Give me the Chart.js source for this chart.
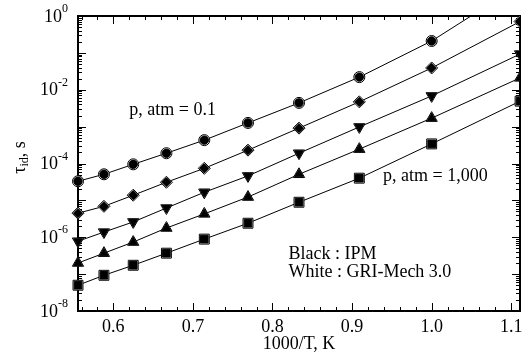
<!DOCTYPE html>
<html>
  <head>
    <title>Ignition delay</title>
    <script src="https://cdn.jsdelivr.net/npm/chart.js"></script>
    <style>
      body { margin: 0; background: #fff; }
      .chart-container { width: 528px; height: 355px; }
    </style>
  </head>
  <body>
    <div class="chart-container">
      <canvas id="tauChart"></canvas>
    </div>

    <script>
      // 1000/T, K  (T = 1800 ... 900 K)
      const invT = [0.5556, 0.5882, 0.625, 0.6667, 0.7143, 0.7692, 0.8333, 0.9091, 1.0, 1.1111];

      // ignition delay, s
      const tau_p0_1 = [3.3e-5, 5.1e-5, 9.5e-5, 1.9e-4, 4.3e-4, 1.26e-3, 4.4e-3, 2.2e-2, 0.21, 7.0];
      const tau_p1 = [4.5e-6, 6.9e-6, 1.38e-5, 3.1e-5, 7.4e-5, 2.3e-4, 9.1e-4, 4.7e-3, 3.9e-2, 0.71];
      const tau_p10 = [7.8e-7, 1.38e-6, 2.6e-6, 6.2e-6, 1.66e-5, 4.6e-5, 1.9e-4, 9.8e-4, 6.8e-3, 9.3e-2];
      const tau_p100 = [2.0e-7, 3.7e-7, 7.4e-7, 1.78e-6, 4.3e-6, 1.23e-5, 5.1e-5, 2.45e-4, 1.7e-3, 2.1e-2];
      const tau_p1000 = [5.0e-8, 9.3e-8, 1.74e-7, 3.7e-7, 8.9e-7, 2.4e-6, 8.9e-6, 4.0e-5, 3.4e-4, 4.9e-3];

      const series = [
        { data: tau_p0_1, style: "circle", rot: 0, rw: 5.5, rb: 4.2 },
        { data: tau_p1, style: "rectRot", rot: 0, rw: 6, rb: 4.6 },
        { data: tau_p10, style: "triangle", rot: 180, rw: 6.5, rb: 5 },
        { data: tau_p100, style: "triangle", rot: 0, rw: 6.5, rb: 5 },
        { data: tau_p1000, style: "rect", rot: 0, rw: 7, rb: 5.4 },
      ];

      const yLabels = [0, -2, -4, -6, -8];
      const xLabels = ["0.6", "0.7", "0.8", "0.9", "1.0", "1.1"];
      const FONT = '"Liberation Serif", "Times New Roman", serif';
      const clipBox = { left: false, top: 0, right: 0, bottom: false };

      const datasets = [];
      series.forEach((s) => {
        const pts = invT.map((x, i) => ({ x: x, y: s.data[i] }));
        // GRI-Mech 3.0 (white) with the curve
        datasets.push({
          data: pts,
          showLine: true,
          borderColor: "#000",
          borderWidth: 1,
          pointStyle: s.style,
          rotation: s.rot,
          pointRadius: s.rw,
          pointBackgroundColor: "#fff",
          pointBorderColor: "#000",
          pointBorderWidth: 1,
          clip: clipBox,
          order: 2,
        });
        // IPM (black)
        datasets.push({
          data: pts,
          showLine: false,
          pointStyle: s.style,
          rotation: s.rot,
          pointRadius: s.rb,
          pointBackgroundColor: "#000",
          pointBorderColor: "#000",
          pointBorderWidth: 1,
          clip: clipBox,
          order: 1,
        });
      });

      const frame = {
        id: "frame",
        beforeDatasetsDraw(chart) {
          const { ctx, chartArea: a, scales } = chart;
          const xs = scales.x, ys = scales.y;
          ctx.save();
          ctx.strokeStyle = "#000";
          ctx.lineWidth = 1;
          ctx.beginPath();
          // y ticks (log)
          for (let d = -8; d <= 0; d++) {
            const py = Math.round(ys.getPixelForValue(Math.pow(10, d))) + 0.5;
            ctx.moveTo(a.left, py); ctx.lineTo(a.left + 8, py);
            ctx.moveTo(a.right, py); ctx.lineTo(a.right - 8, py);
            if (d < 0) {
              for (let m = 2; m <= 9; m++) {
                const pm = Math.round(ys.getPixelForValue(m * Math.pow(10, d))) + 0.5;
                ctx.moveTo(a.left, pm); ctx.lineTo(a.left + 4, pm);
                ctx.moveTo(a.right, pm); ctx.lineTo(a.right - 4, pm);
              }
            }
          }
          // x ticks every 0.02
          for (let i = 28; i <= 55; i++) {
            const px = Math.round(xs.getPixelForValue(i * 0.02)) + 0.5;
            const len = i % 5 === 0 ? 8 : 4;
            ctx.moveTo(px, a.bottom); ctx.lineTo(px, a.bottom - len);
            ctx.moveTo(px, a.top); ctx.lineTo(px, a.top + len);
          }
          ctx.stroke();
          ctx.lineWidth = 2;
          ctx.strokeRect(a.left, a.top, a.right - a.left, a.bottom - a.top);
          ctx.restore();
        },
        afterDraw(chart) {
          const { ctx, chartArea: a, scales } = chart;
          const xs = scales.x, ys = scales.y;
          ctx.save();
          ctx.fillStyle = "#000";
          ctx.textBaseline = "middle";
          // x tick labels
          ctx.font = "18px " + FONT;
          ctx.textAlign = "center";
          xLabels.forEach((t) => {
            ctx.fillText(t, xs.getPixelForValue(parseFloat(t)), a.bottom + 16);
          });
          ctx.fillText("1000/T, K", (a.left + a.right) / 2, a.bottom + 33);
          // y tick labels 10^n
          yLabels.forEach((e) => {
            const py = ys.getPixelForValue(Math.pow(10, e));
            ctx.font = "12px " + FONT;
            ctx.textAlign = "right";
            const sup = e === 0 ? "0" : "-" + Math.abs(e);
            const sw = ctx.measureText(sup).width;
            ctx.fillText(sup, a.left - 10, py - 7);
            ctx.font = "18px " + FONT;
            ctx.fillText("10", a.left - 10 - sw, py + 1);
          });
          // y title
          ctx.translate(20, (a.top + a.bottom) / 2 - 6);
          ctx.rotate(-Math.PI / 2);
          ctx.textAlign = "left";
          ctx.font = "18px " + FONT;
          const w1 = ctx.measureText("\u03c4").width;
          ctx.font = "12px " + FONT;
          const w2 = ctx.measureText("id").width;
          ctx.font = "18px " + FONT;
          const w3 = ctx.measureText(", s").width;
          let x0 = -(w1 + w2 + w3) / 2;
          ctx.fillText("\u03c4", x0, 0);
          ctx.font = "12px " + FONT;
          ctx.fillText("id", x0 + w1, 5);
          ctx.font = "18px " + FONT;
          ctx.fillText(", s", x0 + w1 + w2, 0);
          ctx.restore();

          // annotations
          ctx.save();
          ctx.fillStyle = "#000";
          ctx.textBaseline = "middle";
          ctx.textAlign = "left";
          ctx.font = "18px " + FONT;
          ctx.fillText("p, atm = 0.1", xs.getPixelForValue(0.62), ys.getPixelForValue(Math.pow(10, -2.55)));
          ctx.fillText("p, atm = 1,000", xs.getPixelForValue(0.939), ys.getPixelForValue(Math.pow(10, -4.34)));
          ctx.fillText("Black : IPM", xs.getPixelForValue(0.82), ys.getPixelForValue(Math.pow(10, -6.46)));
          ctx.fillText("White : GRI-Mech 3.0", xs.getPixelForValue(0.82), ys.getPixelForValue(Math.pow(10, -6.95)));
          ctx.restore();
        },
      };

      window.onload = () => {
        new Chart(document.getElementById("tauChart").getContext("2d"), {
          type: "scatter",
          data: { datasets: datasets },
          options: {
            responsive: true,
            maintainAspectRatio: false,
            animation: false,
            layout: { padding: { left: 78, top: 16, right: 7, bottom: 44 } },
            plugins: { legend: { display: false }, tooltip: { enabled: false } },
            scales: {
              x: { type: "linear", min: 0.5556, max: 1.111, display: false },
              y: { type: "logarithmic", min: 1e-8, max: 1, display: false },
            },
          },
          plugins: [frame],
        });
      };
    </script>
  </body>
</html>
